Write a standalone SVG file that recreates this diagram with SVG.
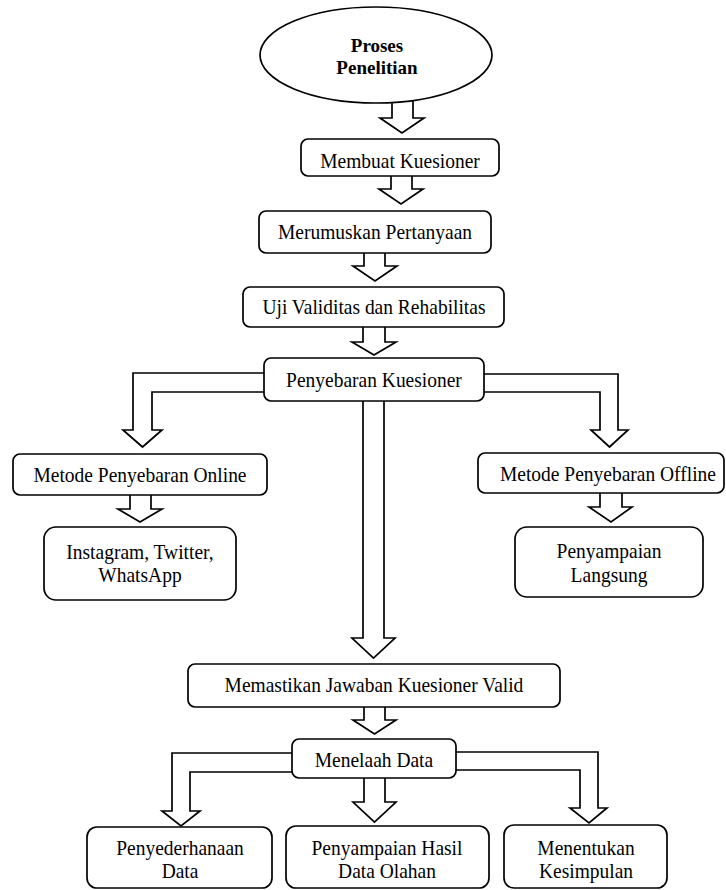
<svg xmlns="http://www.w3.org/2000/svg" width="726" height="890" viewBox="0 0 726 890">
<style>
  .box { fill: #fff; stroke: #000; stroke-width: 1.7; }
  .arr { fill: #fff; stroke: #000; stroke-width: 1.7; stroke-linejoin: miter; }
  .t { font-family: 'Liberation Serif', 'Times New Roman', Times, serif; font-size: 22px; fill: #000; text-anchor: middle; }
  .tb { font-family: 'Liberation Serif', 'Times New Roman', Times, serif; font-size: 19px; font-weight: bold; fill: #000; text-anchor: middle; }
</style>
<rect width="726" height="890" fill="#fff"/>
<g id="connectors">
  <polygon class="arr" points="392,95 413,95 413,118 424,118 402,133 380,118 392,118"/>
  <polygon class="arr" points="391,170 412,170 412,189 423,189 401,204 379,189 391,189"/>
  <polygon class="arr" points="364,247 385,247 385,266 397,266 375,281 353,266 364,266"/>
  <polygon class="arr" points="363,321 385,321 385,342 396,342 374,355 352,342 363,342"/>
  <polygon class="arr" points="363,395 384,395 384,638 395,638 373.5,658 352,638 363,638"/>
  <polyline class="arr" points="272,373 133,373 133,430 123,430 142.5,447 162,430 152,430 152,392 272,392"/>
  <polyline class="arr" points="476,374 618,374 618,430 628,430 609.5,447 591,430 600,430 600,392 476,392"/>
  <polygon class="arr" points="130,489 151,489 151,509 162,509 140,522 118,509 130,509"/>
  <polygon class="arr" points="600,487 622,487 622,507 632,507 611,522 589,507 600,507"/>
  <polygon class="arr" points="364,701 385,701 385,720 396,720 374.5,734 353,720 364,720"/>
  <polygon class="arr" points="364,772 385,772 385,802 396,802 374.5,822 353,802 364,802"/>
  <polyline class="arr" points="300,753 172,753 172,811 162,811 181,826 200,811 190,811 190,772 300,772"/>
  <polyline class="arr" points="448,752 598,752 598,808 607,808 589,823 570,808 580,808 580,770 448,770"/>
</g>
<g id="n-proses">
  <ellipse class="box" cx="376" cy="55" rx="116" ry="48"/>
  <text class="tb" x="377" y="52">Proses</text>
  <text class="tb" x="377" y="74">Penelitian</text>
</g>
<g id="n-membuat">
  <rect class="box" x="301" y="139" width="198" height="37" rx="7"/>
  <text class="t" transform="scale(0.886 1)" x="451.5" y="168">Membuat Kuesioner</text>
</g>
<g id="n-merumuskan">
  <rect class="box" x="259" y="211" width="232" height="42" rx="7"/>
  <text class="t" transform="scale(0.886 1)" x="423.3" y="239">Merumuskan Pertanyaan</text>
</g>
<g id="n-uji">
  <rect class="box" x="243" y="287" width="261" height="40" rx="7"/>
  <text class="t" transform="scale(0.886 1)" x="422.1" y="314">Uji Validitas dan Rehabilitas</text>
</g>
<g id="n-penyebaran">
  <rect class="box" x="264" y="358" width="220" height="43" rx="7"/>
  <text class="t" transform="scale(0.886 1)" x="422.1" y="387">Penyebaran Kuesioner</text>
</g>
<g id="n-online">
  <rect class="box" x="13" y="454" width="254" height="41" rx="7"/>
  <text class="t" transform="scale(0.886 1)" x="158" y="482">Metode Penyebaran Online</text>
</g>
<g id="n-offline">
  <rect class="box" x="478" y="453" width="246" height="40" rx="7"/>
  <text class="t" transform="scale(0.886 1)" x="686.2" y="481">Metode Penyebaran Offline</text>
</g>
<g id="n-instagram">
  <rect class="box" x="44" y="527" width="192" height="73" rx="12"/>
  <text class="t" transform="scale(0.886 1)" x="158" y="559">Instagram, Twitter,</text>
  <text class="t" transform="scale(0.886 1)" x="158" y="582">WhatsApp</text>
</g>
<g id="n-langsung">
  <rect class="box" x="515" y="527" width="188" height="70" rx="12"/>
  <text class="t" transform="scale(0.886 1)" x="687.4" y="558">Penyampaian</text>
  <text class="t" transform="scale(0.886 1)" x="687.4" y="582">Langsung</text>
</g>
<g id="n-memastikan">
  <rect class="box" x="188" y="664" width="372" height="43" rx="7"/>
  <text class="t" transform="scale(0.886 1)" x="422.1" y="692">Memastikan Jawaban Kuesioner Valid</text>
</g>
<g id="n-menelaah">
  <rect class="box" x="292" y="739" width="164" height="39" rx="7"/>
  <text class="t" transform="scale(0.886 1)" x="422.1" y="767">Menelaah Data</text>
</g>
<g id="n-penyederhanaan">
  <rect class="box" x="87" y="827" width="185" height="61" rx="10"/>
  <text class="t" transform="scale(0.886 1)" x="203.2" y="855">Penyederhanaan</text>
  <text class="t" transform="scale(0.886 1)" x="203.2" y="878">Data</text>
</g>
<g id="n-hasil">
  <rect class="box" x="286" y="826" width="203" height="62" rx="10"/>
  <text class="t" transform="scale(0.886 1)" x="436.8" y="855">Penyampaian Hasil</text>
  <text class="t" transform="scale(0.886 1)" x="436.8" y="878">Data Olahan</text>
</g>
<g id="n-kesimpulan">
  <rect class="box" x="504" y="825" width="163" height="63" rx="10"/>
  <text class="t" transform="scale(0.886 1)" x="661.4" y="855">Menentukan</text>
  <text class="t" transform="scale(0.886 1)" x="661.4" y="878">Kesimpulan</text>
</g>
</svg>
